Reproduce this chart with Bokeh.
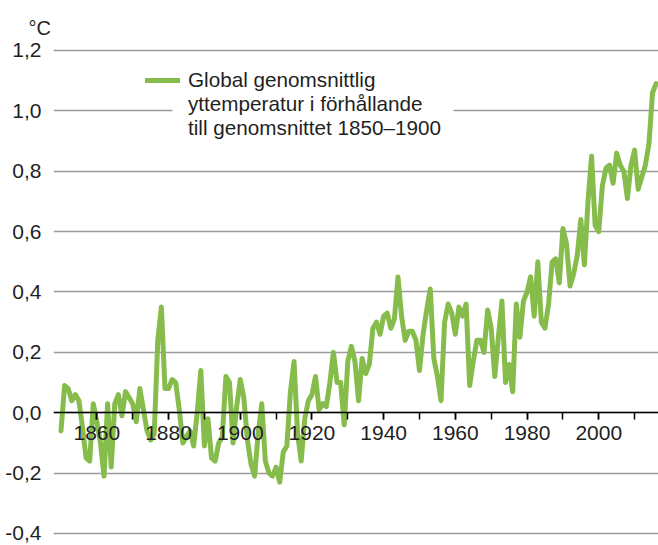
from bokeh.plotting import figure
from bokeh.models import FixedTicker, Legend, LegendItem, BoxAnnotation
from bokeh.embed import file_html
from bokeh.resources import INLINE

# ---- data -------------------------------------------------------------
years = list(range(1850, 2017))
anomaly = [
    -0.06, 0.09, 0.08, 0.04, 0.06, 0.04, -0.05, -0.15, -0.16, 0.03,   # 1850-59
    -0.03, -0.10, -0.21, 0.03, -0.18, 0.03, 0.06, -0.01, 0.07, 0.05,  # 1860-69
    0.03, -0.03, 0.08, 0.01, -0.06, -0.09, -0.07, 0.24, 0.35, 0.08,   # 1870-79
    0.08, 0.11, 0.10, 0.01, -0.10, -0.08, -0.06, -0.11, 0.00, 0.14,   # 1880-89
    -0.11, -0.02, -0.15, -0.16, -0.10, -0.08, 0.12, 0.10, -0.10, 0.02, # 1890-99
    0.11, 0.05, -0.09, -0.17, -0.21, -0.07, 0.03, -0.16, -0.20, -0.21, # 1900-09
    -0.18, -0.23, -0.13, -0.11, 0.07, 0.17, -0.07, -0.16, -0.02, 0.04, # 1910-19
    0.06, 0.12, 0.01, 0.03, 0.02, 0.10, 0.20, 0.10, 0.10, -0.04,      # 1920-29
    0.17, 0.22, 0.17, 0.04, 0.18, 0.13, 0.16, 0.28, 0.30, 0.26,       # 1930-39
    0.32, 0.33, 0.28, 0.31, 0.45, 0.32, 0.24, 0.27, 0.27, 0.24,       # 1940-49
    0.14, 0.26, 0.34, 0.41, 0.18, 0.12, 0.04, 0.30, 0.36, 0.33,       # 1950-59
    0.26, 0.35, 0.32, 0.36, 0.09, 0.17, 0.24, 0.24, 0.20, 0.34,       # 1960-69
    0.28, 0.12, 0.25, 0.37, 0.10, 0.16, 0.07, 0.36, 0.25, 0.37,       # 1970-79
    0.40, 0.45, 0.32, 0.50, 0.30, 0.28, 0.36, 0.50, 0.51, 0.43,       # 1980-89
    0.61, 0.56, 0.42, 0.46, 0.52, 0.64, 0.49, 0.70, 0.85, 0.62,       # 1990-99
    0.60, 0.75, 0.81, 0.82, 0.76, 0.86, 0.82, 0.80, 0.71, 0.82,       # 2000-09
    0.87, 0.74, 0.78, 0.82, 0.89, 1.06, 1.09,                         # 2010-16
]
x_major_ticks = [1860, 1880, 1900, 1920, 1940, 1960, 1980, 2000]
x_minor_ticks = [1860, 1870, 1880, 1890, 1900, 1910, 1920, 1930, 1940,
                 1950, 1960, 1970, 1980, 1990, 2000, 2010]
y_ticks = [-0.4, -0.2, 0.0, 0.2, 0.4, 0.6, 0.8, 1.0, 1.2]
y_tick_labels = ["-0,4", "-0,2", "0,0", "0,2", "0,4", "0,6", "0,8", "1,0", "1,2"]
legend_lines = ["Global genomsnittlig",
                "yttemperatur i förhållande",
                "till genomsnittet 1850–1900"]
unit_label = "°C"

GREEN = "#86bc4b"
TEXT = "#1f1f1f"
FONT = "Liberation Sans"

X0, X1 = 1847.908, 2016.67
Y0, Y1 = -0.4199, 1.2331

p = figure(width=658, height=545,
           x_range=(X0, X1), y_range=(Y0, Y1),
           output_backend="svg", toolbar_location=None,
           min_border_left=53, min_border_right=0,
           min_border_top=40, min_border_bottom=6)
p.outline_line_color = None
p.background_fill_color = "white"
p.border_fill_color = "white"

# unit label as title, top left
p.title.text = unit_label
p.title.align = "left"
p.title.vertical_align = "top"
p.title.offset = -38
p.title.standoff = 0
p.title.padding = (13, 0, 0, 0)
p.title.text_font = FONT
p.title.text_font_size = "20px"
p.title.text_font_style = "normal"
p.title.text_color = TEXT

# grid
p.xgrid.visible = False
p.ygrid.ticker = FixedTicker(ticks=y_ticks)
p.ygrid.grid_line_color = "#9b9b9b"
p.ygrid.grid_line_width = 1.3

# y axis
p.yaxis.ticker = FixedTicker(ticks=y_ticks)
p.yaxis.major_label_overrides = {v: s for v, s in zip(y_ticks, y_tick_labels)}
p.yaxis.axis_line_color = None
p.yaxis.major_tick_line_color = None
p.yaxis.minor_tick_line_color = None
p.yaxis.major_label_standoff = 6
p.yaxis.major_label_text_font = FONT
p.yaxis.major_label_text_font_size = "21px"
p.yaxis.major_label_text_color = TEXT

# x axis at y = 0
p.xaxis.fixed_location = 0
p.xaxis.ticker = FixedTicker(ticks=x_major_ticks, minor_ticks=x_minor_ticks)
p.xaxis.axis_line_color = "black"
p.xaxis.axis_line_width = 1.6
p.xaxis.major_tick_in = 0
p.xaxis.major_tick_out = 7
p.xaxis.minor_tick_in = 0
p.xaxis.minor_tick_out = 7
p.xaxis.major_tick_line_color = "black"
p.xaxis.minor_tick_line_color = "black"
p.xaxis.major_tick_line_width = 1.5
p.xaxis.minor_tick_line_width = 1.5
p.xaxis.major_label_standoff = 6
p.xaxis.major_label_text_font = FONT
p.xaxis.major_label_text_font_size = "21px"
p.xaxis.major_label_text_color = TEXT

# white gap in the 1,0 grid line behind the legend text
mask = BoxAnnotation(left=1881.1, right=1959.5, bottom=0.985, top=1.015,
                     fill_color="white", fill_alpha=1.0, line_color=None)
p.add_layout(mask, "center")

r = p.line(years, anomaly, line_color=GREEN, line_width=5,
           line_join="round", line_cap="round")

items = [LegendItem(label=legend_lines[0], renderers=[r]),
         LegendItem(label=legend_lines[1], renderers=[]),
         LegendItem(label=legend_lines[2], renderers=[])]
legend = Legend(items=items,
                location=(92, 399), padding=0, margin=0, spacing=0,
                glyph_width=35, glyph_height=24, label_height=24,
                label_standoff=8, label_text_font=FONT,
                label_text_font_size="20.7px", label_text_color=TEXT,
                background_fill_alpha=0, border_line_color=None)
p.add_layout(legend, "center")

open("out.html", "w").write(file_html(p, INLINE))
